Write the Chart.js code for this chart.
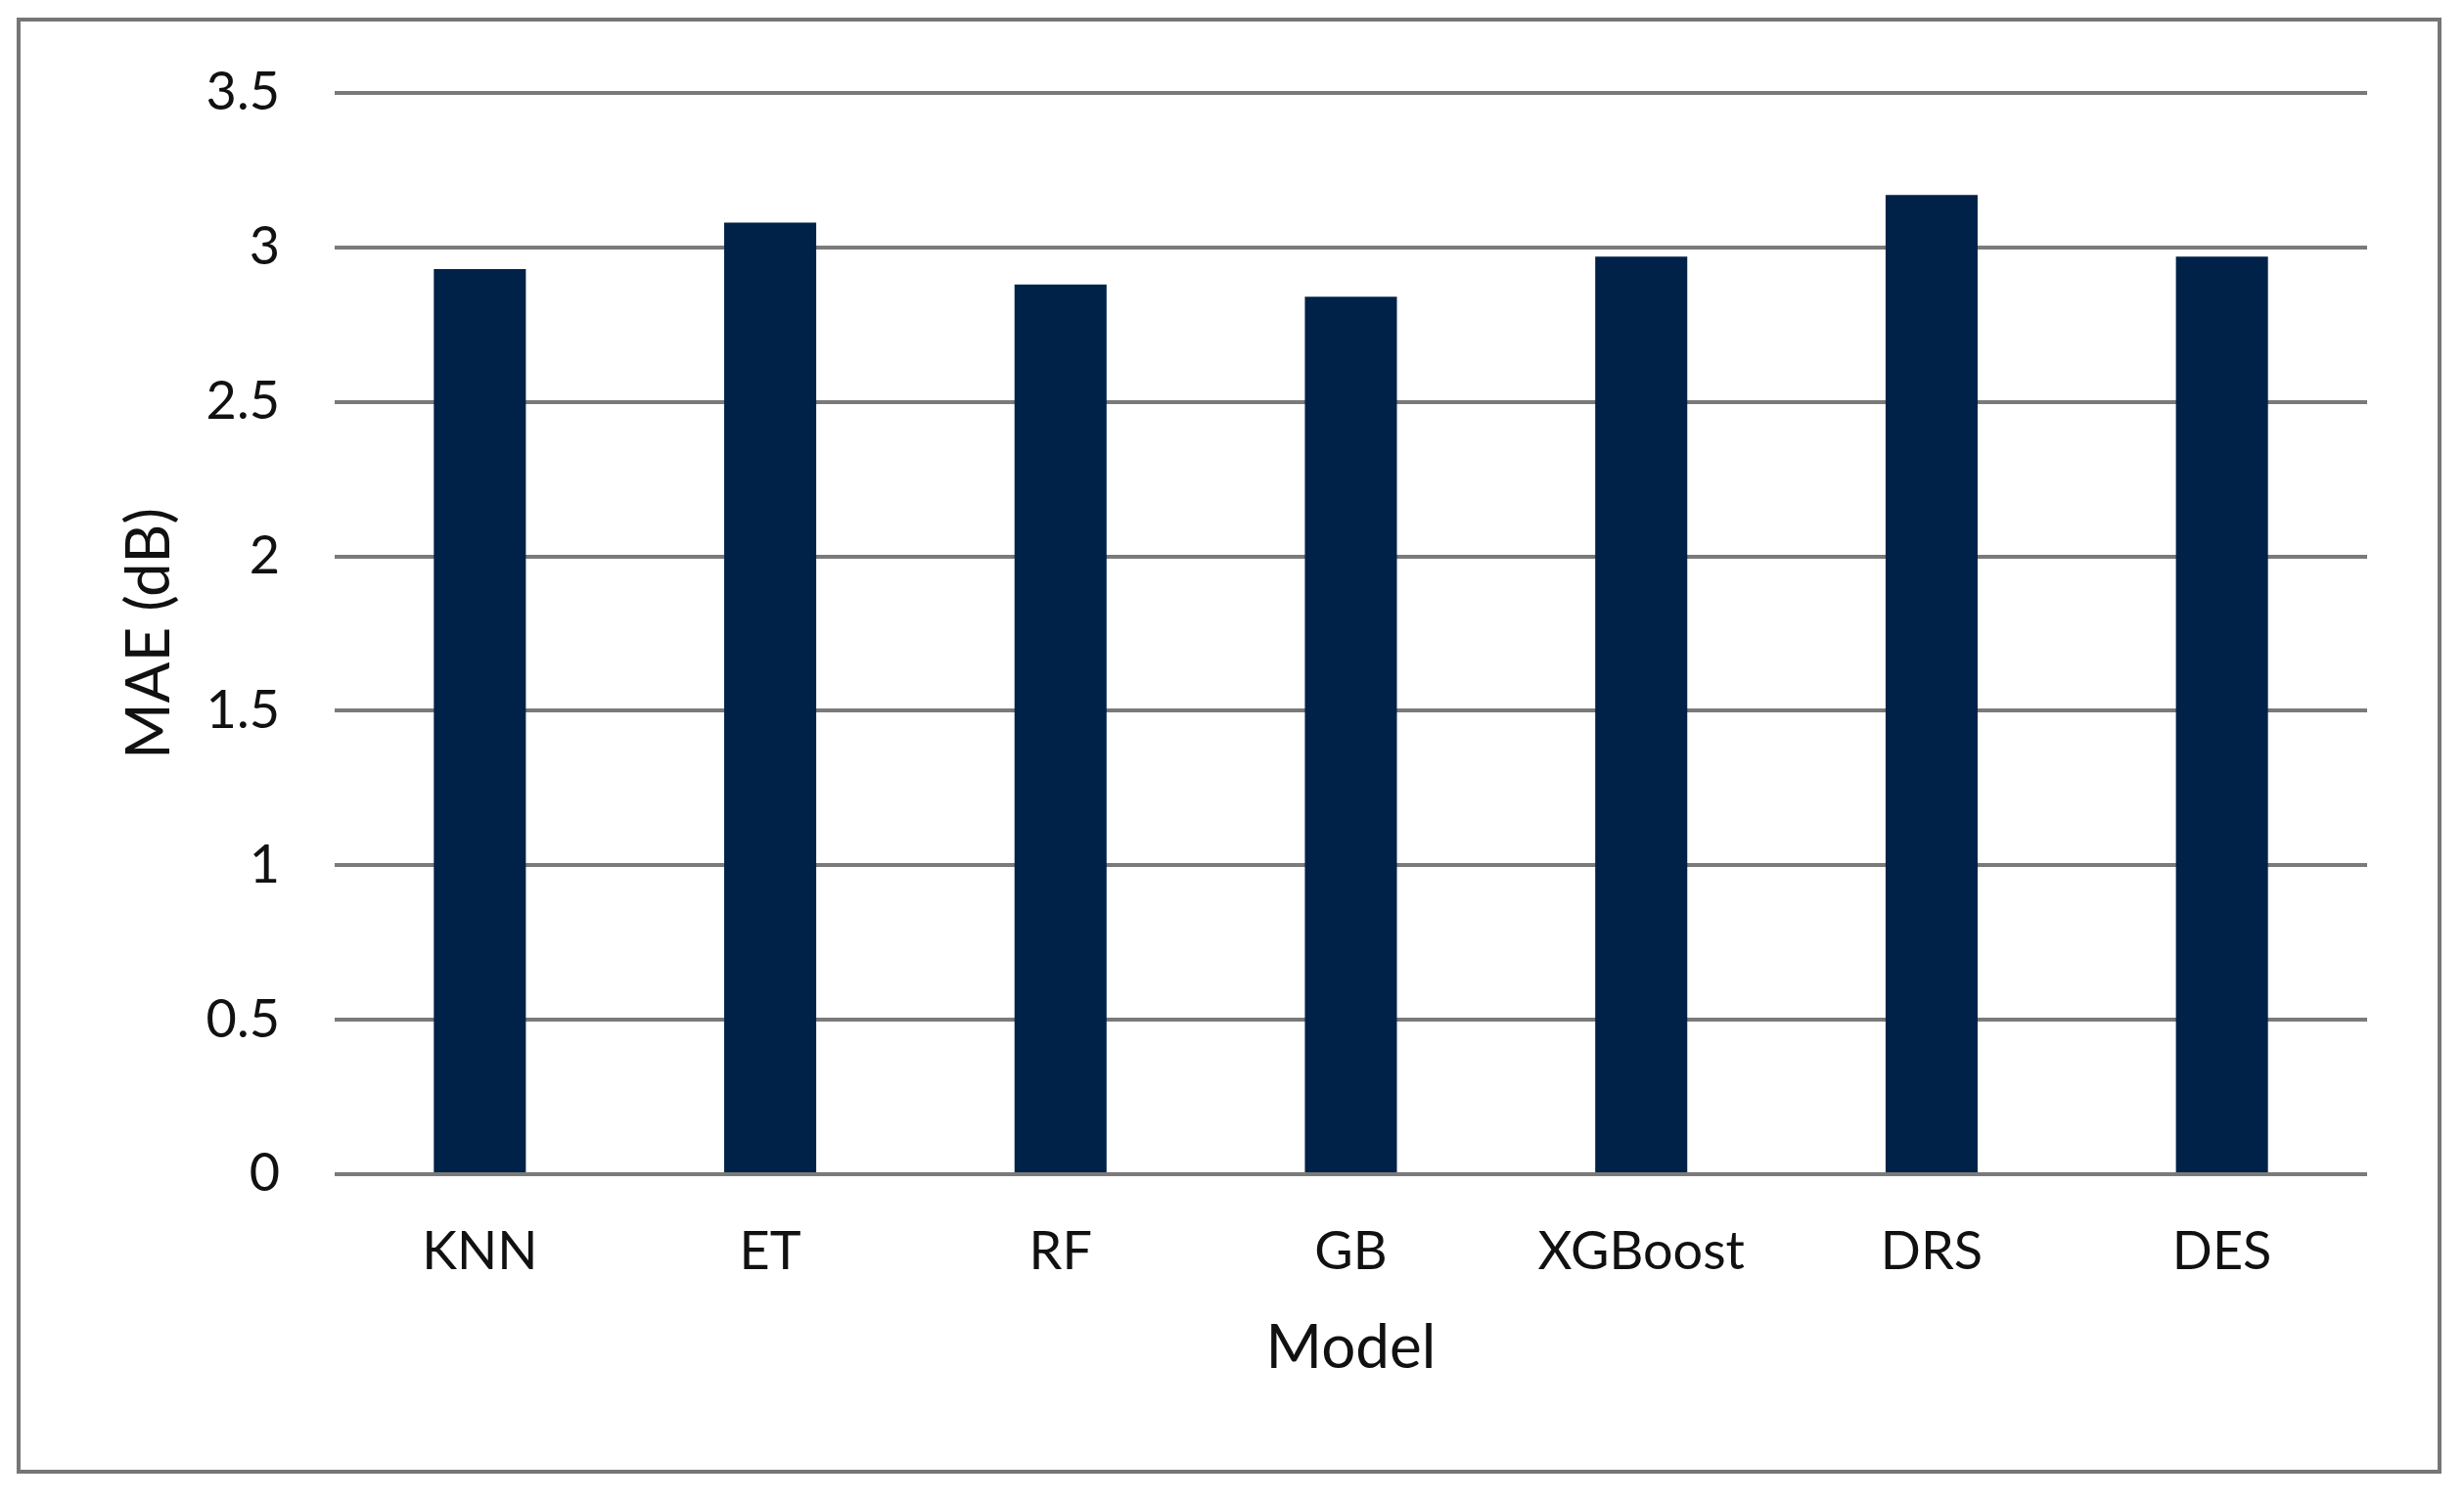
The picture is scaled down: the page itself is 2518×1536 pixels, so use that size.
<!DOCTYPE html>
<html>
<head>
<meta charset="utf-8">
<title>MAE by model</title>
<script src="https://cdn.jsdelivr.net/npm/chart.js@4.4.1/dist/chart.umd.min.js"></script>
<style>
  html, body { margin: 0; padding: 0; background: #fff; }
  #wrap { position: relative; width: 2518px; height: 1536px; }
  #frame {
    position: absolute; left: 17px; top: 18px; width: 2478px; height: 1488px;
    box-sizing: border-box; border: 4px solid #767676; pointer-events: none;
  }
</style>
</head>
<body>
<div id="wrap">
  <canvas id="myChart" width="2518" height="1536"></canvas>
  <div id="frame"></div>
</div>
<script>
// data
var models = ["KNN", "ET", "RF", "GB", "XGBoost", "DRS", "DES"];
var maeValues = [2.93, 3.08, 2.88, 2.84, 2.97, 3.17, 2.97];
var yTicks = [0, 0.5, 1, 1.5, 2, 2.5, 3, 3.5];

var fontName = "Lato";
var ctx = document.getElementById("myChart").getContext("2d");

var myChart = new Chart(ctx, {
  type: "bar",
  data: {
    labels: models,
    datasets: [{
      label: "MAE (dB)",
      data: maeValues,
      backgroundColor: "#002248",
      borderWidth: 0,
      barPercentage: 0.317,
      categoryPercentage: 1
    }]
  },
  options: {
    responsive: false,
    animation: false,
    devicePixelRatio: 1,
    layout: { padding: { left: 0, right: 99, top: 95, bottom: 0 } },
    plugins: {
      legend: { display: false },
      tooltip: { enabled: false }
    },
    scales: {
      x: {
        grid: { display: false, drawTicks: false },
        border: { display: false },
        ticks: {
          color: "#111",
          padding: 47,
          maxRotation: 0,
          font: { family: fontName, size: 54 }
        },
        title: {
          display: true,
          text: "Model",
          color: "#111",
          padding: { top: 0, bottom: 121 },
          font: { family: fontName, size: 62 }
        },
        afterFit: function(scale) { scale.height = 336; }
      },
      y: {
        min: 0,
        max: 3.5,
        afterBuildTicks: function(scale) {
          scale.ticks = yTicks.map(function(v){ return { value: v }; });
        },
        grid: { color: "#7a7a7a", lineWidth: 4, drawTicks: false },
        border: { display: false },
        ticks: {
          color: "#111",
          padding: 56,
          font: { family: fontName, size: 54 },
          // plain numbers: 3 not 3.0
          callback: function(value){ return String(value); }
        },
        title: {
          display: true,
          text: "MAE (dB)",
          color: "#111",
          padding: { top: 116, bottom: 0 },
          font: { family: fontName, size: 62 }
        },
        afterFit: function(scale) { scale.width = 342; }
      }
    }
  }
});
</script>
</body>
</html>
